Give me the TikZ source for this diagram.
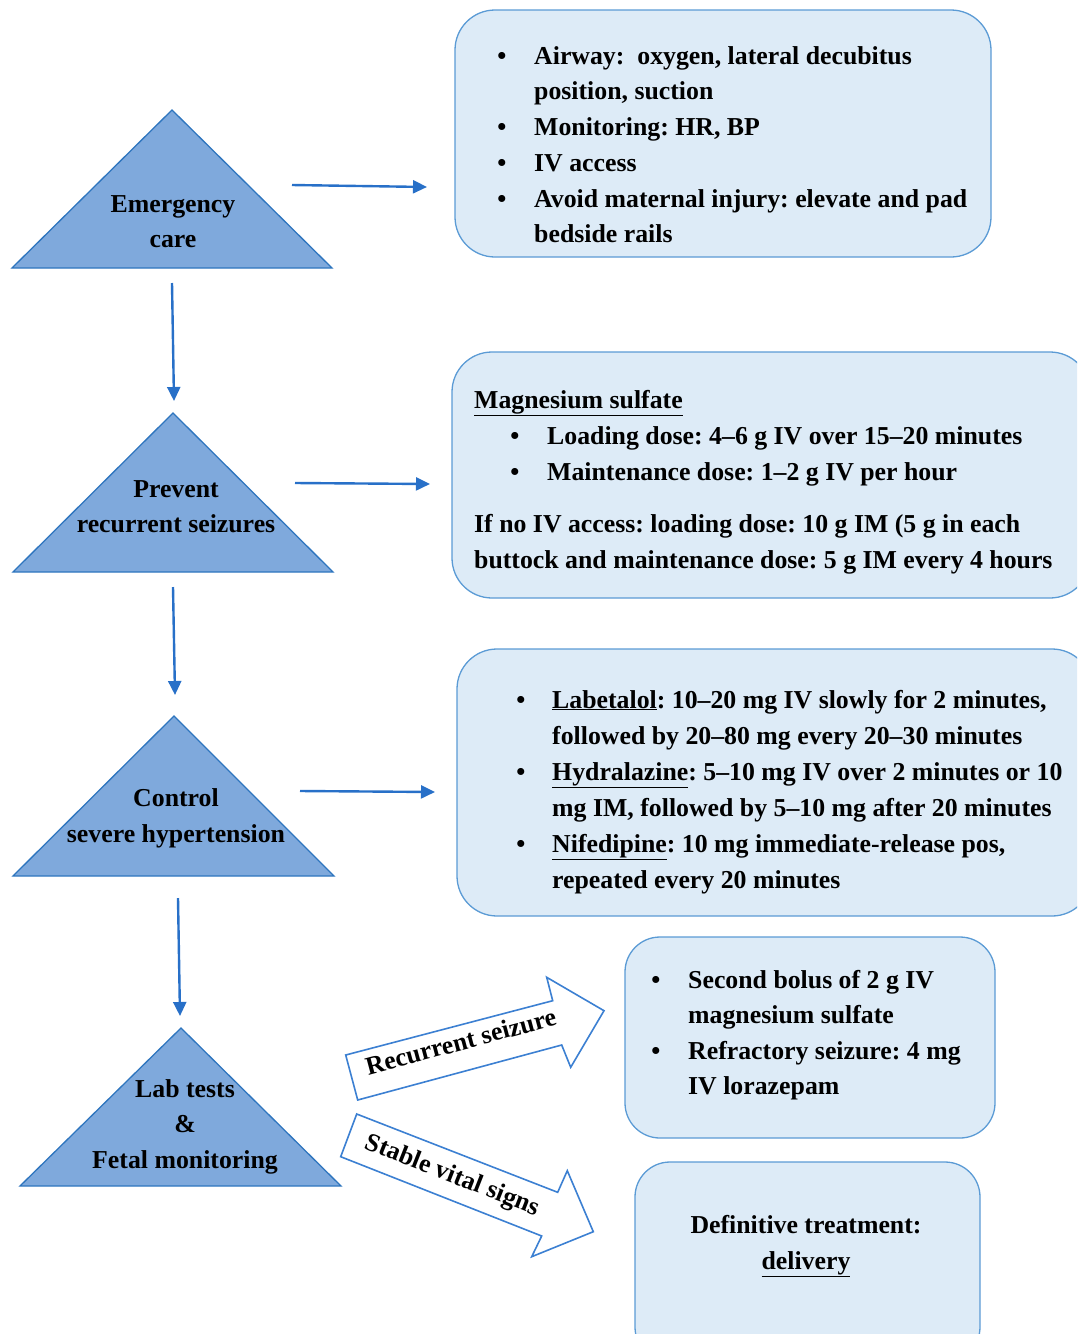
\documentclass[tikz,border=0pt]{standalone}
\usepackage{fontspec}
\setmainfont{Liberation Serif}
\usetikzlibrary{arrows.meta}
\definecolor{trifill}{RGB}{127,169,220}
\definecolor{triedge}{RGB}{46,117,190}
\definecolor{arrowc}{RGB}{40,112,200}
\definecolor{boxfill}{RGB}{221,235,247}
\definecolor{boxedge}{RGB}{91,155,213}
\definecolor{barrow}{RGB}{60,128,210}
\frenchspacing
\begin{document}
\begin{tikzpicture}[x=1pt,y=-1pt,
 txt/.style={font=\fontsize{25.8}{36}\selectfont\bfseries, anchor=base west, inner sep=0pt},
 ctxt/.style={txt, anchor=base},
 bul/.style={txt, anchor=base},
 box/.style={draw=boxedge, fill=boxfill, line width=1.3pt, rounded corners=40pt, inner sep=0pt},
 sbox/.style={box, rounded corners=35pt},
 tri/.style={draw=triedge, fill=trifill, line width=1.3pt, line join=miter},
 flow/.style={draw=arrowc, line width=2.4pt, -{Triangle[length=14pt,width=13pt]}},
 barr/.style={draw=barrow, fill=white, line width=1.6pt, line join=miter}]
\useasboundingbox (0,0) rectangle (1077,1334);
\clip (0,0) rectangle (1077,1334);

% ---------- triangles ----------
\draw[tri] (172,110) -- (332,268) -- (12,268) -- cycle;
\draw[tri] (173,413) -- (333,572) -- (13,572) -- cycle;
\draw[tri] (174,716) -- (334,876) -- (13,876) -- cycle;
\draw[tri] (181,1028) -- (341,1186) -- (20,1186) -- cycle;

\node[ctxt] (t1a) at (173,212) {Emergency};
\node[ctxt] (t1b) at (173,247) {care};
\node[ctxt] (t2a) at (176,497) {Prevent};
\node[ctxt] (t2b) at (176,532) {recurrent seizures};
\node[ctxt] (t3a) at (176,806) {Control};
\node[ctxt] (t3b) at (176,842) {severe hypertension};
\node[ctxt] (t4a) at (185,1097) {Lab tests};
\node[ctxt] (t4b) at (185,1132) {\&};
\node[ctxt] (t4c) at (185,1168) {Fetal monitoring};

% ---------- boxes ----------
\node[box, minimum width=536pt, minimum height=247pt] (b1) at (723,133.5) {};
\node[box, minimum width=638pt, minimum height=246pt] (b2) at (771,475) {};
\node[box, minimum width=635pt, minimum height=267pt] (b3) at (774.5,782.5) {};
\node[sbox, minimum width=370pt, minimum height=201pt] (b4) at (810,1037.5) {};
\node[sbox, minimum width=345pt, minimum height=200pt] (b5) at (807.5,1262) {};

% box 1 text
\node[bul] (b1p1) at (502,64) {\textbullet};
\node[txt] (b1l1) at (534,64) {Airway:\ \ oxygen, lateral decubitus};
\node[txt] (b1l2) at (534,99) {position, suction};
\node[bul] (b1p2) at (502,135) {\textbullet};
\node[txt] (b1l3) at (534,135) {Monitoring: HR, BP};
\node[bul] (b1p3) at (502,171) {\textbullet};
\node[txt] (b1l4) at (534,171) {IV access};
\node[bul] (b1p4) at (502,207) {\textbullet};
\node[txt] (b1l5) at (534,207) {Avoid maternal injury: elevate and pad};
\node[txt] (b1l6) at (534,242) {bedside rails};

% box 2 text
\node[txt] (b2l1) at (474,408) {\underline{Magnesium sulfate}};
\node[bul] (b2p1) at (515,444) {\textbullet};
\node[txt] (b2l2) at (547,444) {Loading dose: 4–6 g IV over 15–20 minutes};
\node[bul] (b2p2) at (515,480) {\textbullet};
\node[txt] (b2l3) at (547,480) {Maintenance dose: 1–2 g IV per hour};
\node[txt] (b2l4) at (474,532) {If no IV access: loading dose: 10 g IM (5 g in each};
\node[txt] (b2l5) at (474,568) {buttock and maintenance dose: 5 g IM every 4 hours};

% box 3 text
\node[bul] (b3p1) at (521,708) {\textbullet};
\node[txt] (b3l1) at (552,708) {\underline{Labetalol}: 10–20 mg IV slowly for 2 minutes,};
\node[txt] (b3l2) at (552,744) {followed by 20–80 mg every 20–30 minutes};
\node[bul] (b3p2) at (521,780) {\textbullet};
\node[txt] (b3l3) at (552,780) {\underline{Hydralazine}: 5–10 mg IV over 2 minutes or 10};
\node[txt] (b3l4) at (552,816) {mg IM, followed by 5–10 mg after 20 minutes};
\node[bul] (b3p3) at (521,852) {\textbullet};
\node[txt] (b3l5) at (552,852) {\underline{Nifedipine}: 10 mg immediate-release pos,};
\node[txt] (b3l6) at (552,888) {repeated every 20 minutes};

% box 4 text
\node[bul] (b4p1) at (656,988) {\textbullet};
\node[txt] (b4l1) at (688,988) {Second bolus of 2 g IV};
\node[txt] (b4l2) at (688,1023) {magnesium sulfate};
\node[bul] (b4p2) at (656,1059) {\textbullet};
\node[txt] (b4l3) at (688,1059) {Refractory seizure: 4 mg};
\node[txt] (b4l4) at (688,1094) {IV lorazepam};

% box 5 text
\node[ctxt] (b5l1) at (806,1233) {Definitive treatment:};
\node[ctxt] (b5l2) at (806,1269) {\underline{delivery}};

% ---------- flow arrows ----------
\coordinate (a1s) at (292,185); \coordinate (a1e) at (427,187);
\coordinate (a2s) at (295,483); \coordinate (a2e) at (430,484);
\coordinate (a3s) at (300,791); \coordinate (a3e) at (435,792);
\coordinate (d1s) at (172,283); \coordinate (d1e) at (174,401);
\coordinate (d2s) at (173,587); \coordinate (d2e) at (175,695);
\coordinate (d3s) at (178,898); \coordinate (d3e) at (180,1016);
\draw[flow] (a1s) -- (a1e);
\draw[flow] (a2s) -- (a2e);
\draw[flow] (a3s) -- (a3e);
\draw[flow] (d1s) -- (d1e);
\draw[flow] (d2s) -- (d2e);
\draw[flow] (d3s) -- (d3e);

% ---------- block arrows ----------
\draw[barr] (345.7,1055) -- (552.7,1000.7) -- (546.7,977.3) -- (604,1010.7)
  -- (570.7,1067.3) -- (561.7,1045) -- (357.7,1100) -- cycle;
\draw[barr] (356.7,1114) -- (557.7,1192.3) -- (567.3,1170.7) -- (593.3,1231.7)
  -- (531.7,1256.7) -- (541.7,1236) -- (340.7,1156.7) -- cycle;
\node[txt, anchor=base, rotate=15] (rs) at (463,1050) {Recurrent seizure};
\node[txt, anchor=base, rotate=-21.5] (sv) at (450,1182) {Stable vital signs};
\end{tikzpicture}
\end{document}
